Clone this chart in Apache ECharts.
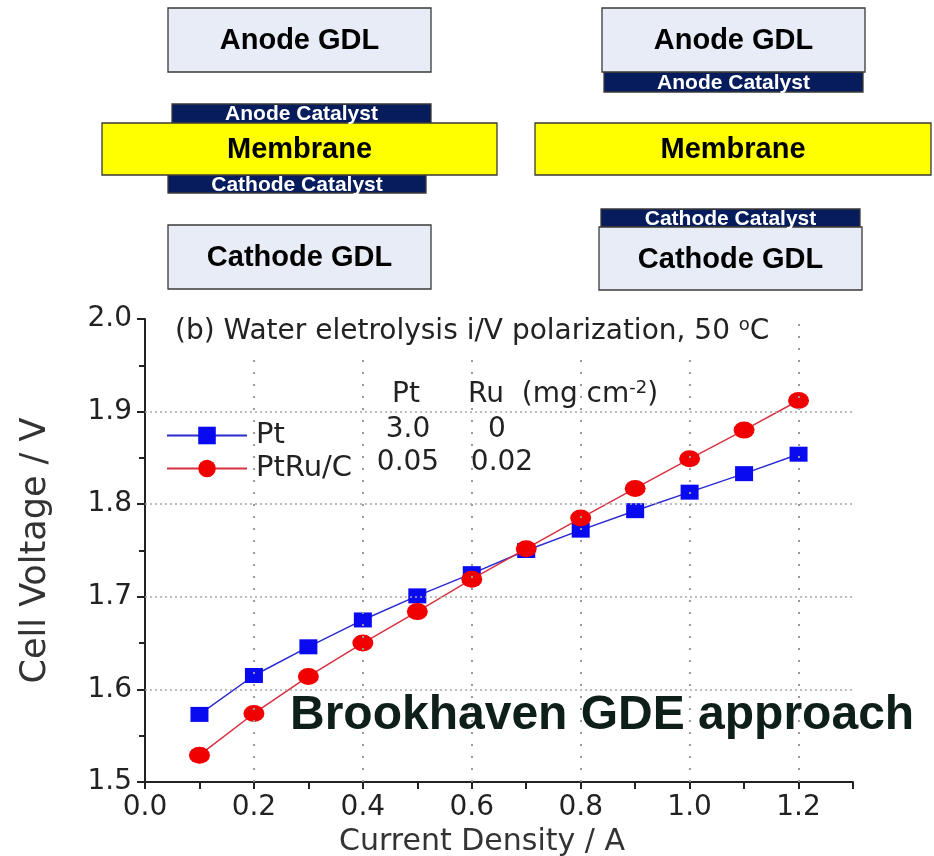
<!DOCTYPE html>
<html>
<head>
<meta charset="utf-8">
<script src="https://cdn.jsdelivr.net/npm/echarts@6/dist/echarts.min.js"></script>
<style>html,body{margin:0;padding:0;background:#fff}#c{width:934px;height:856px}</style>
</head>
<body>
<div id="c"></div>
<script>
// ---- data ----
const currentDensity = [0.1, 0.2, 0.3, 0.4, 0.5, 0.6, 0.7, 0.8, 0.9, 1.0, 1.1, 1.2];
const ptVoltage      = [1.573, 1.615, 1.646, 1.675, 1.701, 1.725, 1.750, 1.772, 1.793, 1.813, 1.833, 1.854];
const ptRuVoltage    = [1.529, 1.574, 1.614, 1.650, 1.684, 1.719, 1.752, 1.785, 1.817, 1.849, 1.880, 1.912];
const seriesNames    = ['Pt', 'PtRu/C'];
const xGridValues    = [0.2, 0.4, 0.6, 0.8, 1.0, 1.2];
const yGridValues    = [1.6, 1.7, 1.8, 1.9];
const tableHeader    = ['Pt', 'Ru'];
const tableRows      = [['3.0', '0'], ['0.05', '0.02']];

const chartFont = 'DejaVu Sans';
const boldFont = 'Liberation Sans';

function box(x, y, w, h, fill, label, size, color) {
  return [
    { type: 'rect', z: 20, shape: { x: x, y: y, width: w, height: h },
      style: { fill: fill, stroke: '#3a3a3a', lineWidth: 1.3 } },
    { type: 'text', z: 21, x: x + w / 2, y: y + h / 2 + 1,
      style: { text: label, fill: color, font: 'bold ' + size + 'px "' + boldFont + '"',
               align: 'center', verticalAlign: 'middle', textAlign: 'center', textVerticalAlign: 'middle' } }
  ];
}

const GDL = '#e7ecf6', NAVY = '#061c5c', YEL = '#ffff00';
let diagram = [];
// left stack
diagram = diagram.concat(box(168, 8, 263, 64, GDL, 'Anode GDL', 29, '#000'));
diagram = diagram.concat(box(172, 104, 259, 19, NAVY, 'Anode Catalyst', 21, '#fff'));
diagram = diagram.concat(box(168, 175, 258, 18, NAVY, 'Cathode Catalyst', 21, '#fff'));
diagram = diagram.concat(box(102, 123, 395, 52, YEL, 'Membrane', 29, '#000'));
diagram = diagram.concat(box(168, 225, 263, 64, GDL, 'Cathode GDL', 29, '#000'));
// right stack
diagram = diagram.concat(box(604, 72, 259, 20, NAVY, 'Anode Catalyst', 21, '#fff'));
diagram = diagram.concat(box(602, 8, 263, 64, GDL, 'Anode GDL', 29, '#000'));
diagram = diagram.concat(box(535, 123, 396, 52, YEL, 'Membrane', 29, '#000'));
diagram = diagram.concat(box(601, 209, 259, 18, NAVY, 'Cathode Catalyst', 21, '#fff'));
diagram = diagram.concat(box(599, 227, 263, 63, GDL, 'Cathode GDL', 29, '#000'));

const txt = (x, y, text, align, extra) => Object.assign({
  type: 'text', z: 31, x: x, y: y,
  style: Object.assign({ text: text, fill: '#222', fontSize: 28, fontFamily: chartFont,
    align: align, verticalAlign: 'middle', textAlign: align, textVerticalAlign: 'middle' }, extra || {})
});

const supRich = { sup: { fontSize: 18, fontFamily: chartFont, fill: '#222', verticalAlign: 'top', padding: [0, 0, 14, 0] } };

const overlay = [
  { type: 'rect', z: 30, shape: { x: 160, y: 314, width: 624, height: 40 }, style: { fill: '#fff' } },
  txt(175, 332, '(b) Water eletrolysis i/V polarization, 50 {sup|o}C', 'left', { fontSize: 28, rich: supRich }),
  txt(406, 395, tableHeader[0], 'center'),
  txt(468, 395, tableHeader[1] + '  (mg cm{sup|-2})', 'left', { rich: supRich }),
  txt(408, 430, tableRows[0][0], 'center'),
  txt(497, 430, tableRows[0][1], 'center'),
  txt(408, 463, tableRows[1][0], 'center'),
  txt(502, 463, tableRows[1][1], 'center'),
  { type: 'text', z: 31, x: 290, y: 716,
    style: { text: 'Brookhaven GDE approach', fill: '#0e1f1a', font: 'bold 48px "' + boldFont + '"',
             align: 'left', verticalAlign: 'middle', textAlign: 'left', textVerticalAlign: 'middle' } }
];

const isMult = (v, step) => Math.abs(Math.round(v / step) * step - v) < 1e-6;

const option = {
  animation: false,
  backgroundColor: '#fff',
  grid: { left: 145, right: 81, top: 319, bottom: 74, containLabel: false, outerBoundsMode: 'none' },
  legend: {
    data: seriesNames, orient: 'vertical', left: 161, top: 416,
    itemWidth: 80, itemHeight: 22, itemGap: 4,
    textStyle: { fontSize: 29, fontFamily: chartFont, color: '#222', padding: [0, 0, 0, 4] }
  },
  xAxis: {
    type: 'value', min: 0, max: 1.3, interval: 0.1,
    name: 'Current Density / A', nameLocation: 'middle', nameGap: 44,
    nameTextStyle: { fontSize: 30, fontFamily: chartFont, color: '#333', padding: [0, 34, 0, 0] },
    axisLine: { show: true, lineStyle: { color: '#222', width: 2 } },
    axisTick: { show: true, length: 7, lineStyle: { color: '#222', width: 2 } },
    axisLabel: { fontSize: 28, fontFamily: chartFont, color: '#222', margin: 12,
      formatter: v => (isMult(v, 0.2) ? v.toFixed(1) : '') },
    splitLine: { show: false }
  },
  yAxis: {
    type: 'value', min: 1.5, max: 2.0, interval: 0.1,
    name: 'Cell Voltage / V', nameLocation: 'middle', nameGap: 92, nameRotate: 90,
    nameTextStyle: { fontSize: 35, fontFamily: chartFont, color: '#333' },
    axisLine: { show: true, lineStyle: { color: '#222', width: 2 } },
    axisTick: { show: true, length: 8, lineStyle: { color: '#222', width: 2 } },
    minorTick: { show: true, splitNumber: 2, length: 6, lineStyle: { color: '#222', width: 2 } },
    axisLabel: { fontSize: 28, fontFamily: chartFont, color: '#222', margin: 13, formatter: v => v.toFixed(1) },
    splitLine: { show: false }
  },
  series: [
    {
      name: 'gridlines', type: 'line', data: [], z: 1, silent: true,
      markLine: {
        silent: true, symbol: 'none', animation: false, label: { show: false },
        data: xGridValues.map(v => ({ xAxis: v, lineStyle: { color: '#9a9a9a', width: 2, type: [2, 10] } }))
          .concat(yGridValues.map(v => ({ yAxis: v, lineStyle: { color: '#a8a8a8', width: 1.5, type: [2, 3] } })))
      }
    },
    {
      name: seriesNames[0], type: 'line', z: 3,
      data: currentDensity.map((x, i) => [x, ptVoltage[i]]),
      symbol: 'rect', symbolSize: [18, 15],
      itemStyle: { color: '#0a0af0' },
      lineStyle: { color: '#2a2ad0', width: 1.5 }
    },
    {
      name: seriesNames[1], type: 'line', z: 4,
      data: currentDensity.map((x, i) => [x, ptRuVoltage[i]]),
      symbol: 'circle', symbolSize: [21, 17],
      itemStyle: { color: '#f00000' },
      lineStyle: { color: '#d83040', width: 1.5 }
    }
  ],
  graphic: { elements: diagram.concat(overlay) }
};

const chart = echarts.init(document.getElementById('c'), null, { renderer: 'canvas' });
chart.setOption(option);
</script>
</body>
</html>
